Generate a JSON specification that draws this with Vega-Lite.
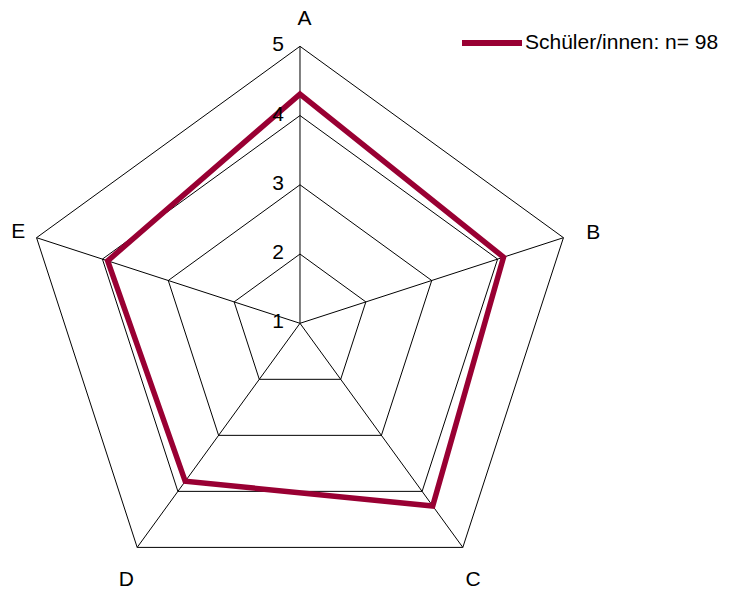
{
  "$schema": "https://vega.github.io/schema/vega-lite/v6.json",
  "width": 730,
  "height": 591,
  "padding": 0,
  "autosize": "none",
  "background": "white",
  "config": {"view": {"stroke": null}, "font": "Liberation Sans"},
  "datasets": {
    "scores": [
      {"series": "Schüler/innen: n= 98", "axis": "A", "i": 0, "value": 4.31},
      {"series": "Schüler/innen: n= 98", "axis": "B", "i": 1, "value": 4.09},
      {"series": "Schüler/innen: n= 98", "axis": "C", "i": 2, "value": 4.26},
      {"series": "Schüler/innen: n= 98", "axis": "D", "i": 3, "value": 3.82},
      {"series": "Schüler/innen: n= 98", "axis": "E", "i": 4, "value": 3.92}
    ],
    "rings": [
      {"level": 2, "i": [0, 1, 2, 3, 4]},
      {"level": 3, "i": [0, 1, 2, 3, 4]},
      {"level": 4, "i": [0, 1, 2, 3, 4]},
      {"level": 5, "i": [0, 1, 2, 3, 4]}
    ],
    "levels": [{"level": 1}, {"level": 2}, {"level": 3}, {"level": 4}, {"level": 5}]
  },
  "layer": [
    {
      "data": {"name": "rings"},
      "transform": [
        {"flatten": ["i"]},
        {"calculate": "(datum.level - 1) * sin(datum.i * 2 * PI / 5)", "as": "px"},
        {"calculate": "(datum.level - 1) * cos(datum.i * 2 * PI / 5)", "as": "py"}
      ],
      "mark": {"type": "line", "interpolate": "linear-closed", "color": "black", "strokeWidth": 1},
      "encoding": {
        "x": {"field": "px", "type": "quantitative", "axis": null, "scale": {"domain": [-4.3321, 6.2094], "nice": false, "zero": false}},
        "y": {"field": "py", "type": "quantitative", "axis": null, "scale": {"domain": [-3.8657, 4.6686], "nice": false, "zero": false}},
        "detail": {"field": "level", "type": "nominal"},
        "order": {"field": "i", "type": "quantitative"}
      }
    },
    {
      "data": {"name": "scores"},
      "transform": [
        {"calculate": "0", "as": "cx"},
        {"calculate": "0", "as": "cy"},
        {"calculate": "4 * sin(datum.i * 2 * PI / 5)", "as": "ox"},
        {"calculate": "4 * cos(datum.i * 2 * PI / 5)", "as": "oy"}
      ],
      "mark": {"type": "rule", "color": "black", "strokeWidth": 1},
      "encoding": {
        "x": {"field": "cx", "type": "quantitative", "axis": null, "scale": {"domain": [-4.3321, 6.2094], "nice": false, "zero": false}},
        "y": {"field": "cy", "type": "quantitative", "axis": null, "scale": {"domain": [-3.8657, 4.6686], "nice": false, "zero": false}},
        "x2": {"field": "ox"},
        "y2": {"field": "oy"}
      }
    },
    {
      "data": {"name": "scores"},
      "transform": [
        {"calculate": "(datum.value - 1) * sin(datum.i * 2 * PI / 5)", "as": "px"},
        {"calculate": "(datum.value - 1) * cos(datum.i * 2 * PI / 5)", "as": "py"}
      ],
      "mark": {"type": "line", "interpolate": "linear-closed", "strokeWidth": 5.5, "strokeJoin": "miter"},
      "encoding": {
        "x": {"field": "px", "type": "quantitative", "axis": null, "scale": {"domain": [-4.3321, 6.2094], "nice": false, "zero": false}},
        "y": {"field": "py", "type": "quantitative", "axis": null, "scale": {"domain": [-3.8657, 4.6686], "nice": false, "zero": false}},
        "order": {"field": "i", "type": "quantitative"},
        "color": {
          "field": "series",
          "type": "nominal",
          "scale": {"range": ["#990033"]},
          "legend": {
            "orient": "none",
            "legendX": 459,
            "legendY": 10,
            "title": null,
            "symbolType": "stroke",
            "symbolStrokeWidth": 6,
            "symbolSize": 3600,
            "labelFontSize": 21,
            "labelFont": "Liberation Sans",
            "labelColor": "black",
            "labelOffset": 0,
            "labelLimit": 400
          }
        }
      }
    },
    {
      "data": {"name": "levels"},
      "transform": [
        {"calculate": "0", "as": "cx"},
        {"calculate": "datum.level - 1", "as": "py"}
      ],
      "mark": {"type": "text", "align": "right", "baseline": "middle", "dx": -16, "dy": -1, "fontSize": 21, "color": "black"},
      "encoding": {
        "x": {"field": "cx", "type": "quantitative", "axis": null, "scale": {"domain": [-4.3321, 6.2094], "nice": false, "zero": false}},
        "y": {"field": "py", "type": "quantitative", "axis": null, "scale": {"domain": [-3.8657, 4.6686], "nice": false, "zero": false}},
        "text": {"field": "level", "type": "quantitative"}
      }
    },
    {
      "data": {"name": "scores"},
      "transform": [
        {"filter": "datum.axis == 'A'"},
        {"calculate": "4.4 * sin(datum.i * 2 * PI / 5)", "as": "lx"},
        {"calculate": "4.4 * cos(datum.i * 2 * PI / 5)", "as": "ly"}
      ],
      "mark": {"type": "text", "align": "center", "baseline": "middle", "fontSize": 21, "color": "black", "dx": 4.5, "dy": 0},
      "encoding": {
        "x": {"field": "lx", "type": "quantitative", "axis": null, "scale": {"domain": [-4.3321, 6.2094], "nice": false, "zero": false}},
        "y": {"field": "ly", "type": "quantitative", "axis": null, "scale": {"domain": [-3.8657, 4.6686], "nice": false, "zero": false}},
        "text": {"field": "axis", "type": "nominal"}
      }
    },
    {
      "data": {"name": "scores"},
      "transform": [
        {"filter": "datum.axis == 'B'"},
        {"calculate": "4.4 * sin(datum.i * 2 * PI / 5)", "as": "lx"},
        {"calculate": "4.4 * cos(datum.i * 2 * PI / 5)", "as": "ly"}
      ],
      "mark": {"type": "text", "align": "center", "baseline": "middle", "fontSize": 21, "color": "black", "dx": 3.5, "dy": 3.5},
      "encoding": {
        "x": {"field": "lx", "type": "quantitative", "axis": null, "scale": {"domain": [-4.3321, 6.2094], "nice": false, "zero": false}},
        "y": {"field": "ly", "type": "quantitative", "axis": null, "scale": {"domain": [-3.8657, 4.6686], "nice": false, "zero": false}},
        "text": {"field": "axis", "type": "nominal"}
      }
    },
    {
      "data": {"name": "scores"},
      "transform": [
        {"filter": "datum.axis == 'C'"},
        {"calculate": "4.4 * sin(datum.i * 2 * PI / 5)", "as": "lx"},
        {"calculate": "4.4 * cos(datum.i * 2 * PI / 5)", "as": "ly"}
      ],
      "mark": {"type": "text", "align": "center", "baseline": "middle", "fontSize": 21, "color": "black", "dx": -6, "dy": 10},
      "encoding": {
        "x": {"field": "lx", "type": "quantitative", "axis": null, "scale": {"domain": [-4.3321, 6.2094], "nice": false, "zero": false}},
        "y": {"field": "ly", "type": "quantitative", "axis": null, "scale": {"domain": [-3.8657, 4.6686], "nice": false, "zero": false}},
        "text": {"field": "axis", "type": "nominal"}
      }
    },
    {
      "data": {"name": "scores"},
      "transform": [
        {"filter": "datum.axis == 'D'"},
        {"calculate": "4.4 * sin(datum.i * 2 * PI / 5)", "as": "lx"},
        {"calculate": "4.4 * cos(datum.i * 2 * PI / 5)", "as": "ly"}
      ],
      "mark": {"type": "text", "align": "center", "baseline": "middle", "fontSize": 21, "color": "black", "dx": 5.5, "dy": 10},
      "encoding": {
        "x": {"field": "lx", "type": "quantitative", "axis": null, "scale": {"domain": [-4.3321, 6.2094], "nice": false, "zero": false}},
        "y": {"field": "ly", "type": "quantitative", "axis": null, "scale": {"domain": [-3.8657, 4.6686], "nice": false, "zero": false}},
        "text": {"field": "axis", "type": "nominal"}
      }
    },
    {
      "data": {"name": "scores"},
      "transform": [
        {"filter": "datum.axis == 'E'"},
        {"calculate": "4.4 * sin(datum.i * 2 * PI / 5)", "as": "lx"},
        {"calculate": "4.4 * cos(datum.i * 2 * PI / 5)", "as": "ly"}
      ],
      "mark": {"type": "text", "align": "center", "baseline": "middle", "fontSize": 21, "color": "black", "dx": 8, "dy": 3},
      "encoding": {
        "x": {"field": "lx", "type": "quantitative", "axis": null, "scale": {"domain": [-4.3321, 6.2094], "nice": false, "zero": false}},
        "y": {"field": "ly", "type": "quantitative", "axis": null, "scale": {"domain": [-3.8657, 4.6686], "nice": false, "zero": false}},
        "text": {"field": "axis", "type": "nominal"}
      }
    }
  ]
}
